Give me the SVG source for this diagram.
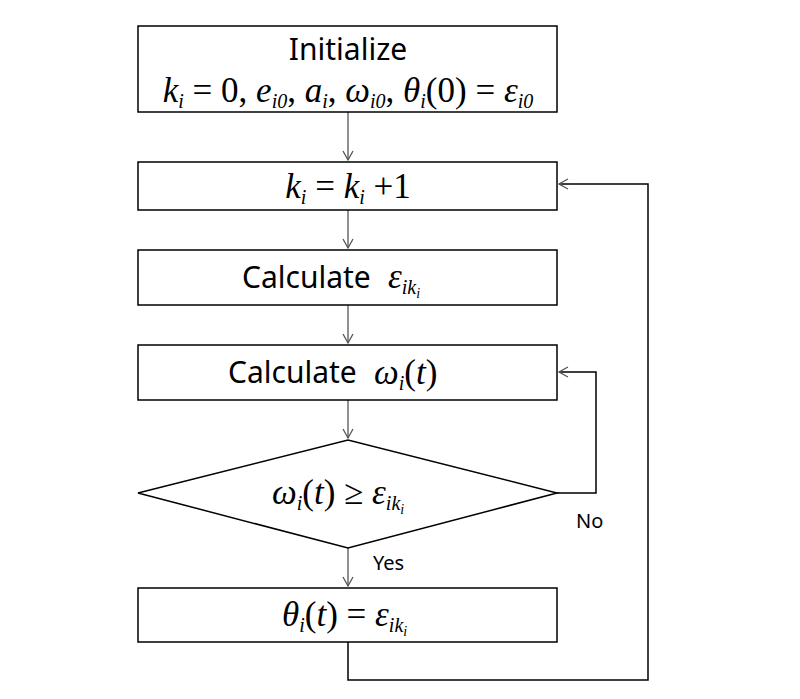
<svg xmlns="http://www.w3.org/2000/svg" width="800" height="699" viewBox="0 0 800 699">
<style>
.b{fill:#fff;stroke:#000;stroke-width:1.5}
.t{font-family:"Malgun Gothic","Noto Sans","Open Sans",sans-serif;font-size:30px;fill:#000}
.m{font-family:"Liberation Serif",serif;font-size:35px;fill:#000}
.i{font-style:italic}
.s{font-size:20px;font-style:italic}
.l{font-family:"Noto Sans","Open Sans",sans-serif;font-size:20px;fill:#000}
.c{fill:none;stroke:#555;stroke-width:1.3}
.c2{fill:none;stroke:#000;stroke-width:1.5}
</style>
<defs>
<marker id="a" markerWidth="12" markerHeight="12" refX="10" refY="6" orient="auto" markerUnits="userSpaceOnUse"><path d="M1,1 L10,6 L1,11" fill="none" stroke="#555" stroke-width="1.3"/></marker>
</defs>
<rect width="800" height="699" fill="#fff"/>
<g id="connectors">
<path class="c" d="M348,112 V160" marker-end="url(#a)"/>
<path class="c" d="M348,210 V248" marker-end="url(#a)"/>
<path class="c" d="M348,305 V343" marker-end="url(#a)"/>
<path class="c" d="M348,400 V438" marker-end="url(#a)"/>
<path class="c" d="M348,548 V586" marker-end="url(#a)"/>
<path class="c2" d="M557,493 H596 V372 H559" marker-end="url(#a)"/>
<path class="c2" d="M348,642 V680 H648 V184 H559" marker-end="url(#a)"/>
<text class="l" x="576" y="528">No</text>
<text class="l" x="373" y="570">Yes</text>
</g>
<g id="init">
<rect class="b" x="138" y="26" width="419" height="86"/>
<text class="t" x="348" y="60" text-anchor="middle">Initialize</text>
<text class="m" x="348" y="102" text-anchor="middle"><tspan class="i">k</tspan><tspan class="s" dy="6">i</tspan><tspan dy="-6"> = 0, </tspan><tspan class="i">e</tspan><tspan class="s" dy="6">i0</tspan><tspan dy="-6">, </tspan><tspan class="i">a</tspan><tspan class="s" dy="6">i</tspan><tspan dy="-6">, </tspan><tspan class="i">ω</tspan><tspan class="s" dy="6">i0</tspan><tspan dy="-6">, </tspan><tspan class="i">θ</tspan><tspan class="s" dy="6">i</tspan><tspan dy="-6">(0) = </tspan><tspan class="i">ε</tspan><tspan class="s" dy="6">i0</tspan></text>
</g>
<g id="inc">
<rect class="b" x="138" y="162" width="419" height="48"/>
<text class="m" x="348" y="198" text-anchor="middle"><tspan class="i">k</tspan><tspan class="s" dy="6">i</tspan><tspan dy="-6"> = </tspan><tspan class="i">k</tspan><tspan class="s" dy="6">i</tspan><tspan dy="-6"> +1</tspan></text>
</g>
<g id="calc1">
<rect class="b" x="138" y="250" width="419" height="55"/>
<text class="t" x="242" y="288">Calculate</text>
<text class="m" x="388" y="288"><tspan class="i">ε</tspan><tspan class="s" dy="6">ik</tspan><tspan dy="4" style="font-size:14px;font-style:italic">i</tspan></text>
</g>
<g id="calc2">
<rect class="b" x="138" y="345" width="419" height="55"/>
<text class="t" x="228" y="383">Calculate</text>
<text class="m" x="374" y="384"><tspan class="i">ω</tspan><tspan class="s" dy="6">i</tspan><tspan dy="-6">(</tspan><tspan class="i">t</tspan><tspan>)</tspan></text>
</g>
<g id="decision">
<polygon class="b" points="138,493 348,440 557,493 348,548"/>
<text class="m" x="272" y="504"><tspan class="i">ω</tspan><tspan class="s" dy="6">i</tspan><tspan dy="-6">(</tspan><tspan class="i">t</tspan><tspan>) ≥ </tspan><tspan class="i">ε</tspan><tspan class="s" dy="6">ik</tspan><tspan dy="4" style="font-size:14px;font-style:italic">i</tspan></text>
</g>
<g id="assign">
<rect class="b" x="138" y="588" width="419" height="54"/>
<text class="m" x="282" y="626"><tspan class="i">θ</tspan><tspan class="s" dy="6">i</tspan><tspan dy="-6">(</tspan><tspan class="i">t</tspan><tspan>) = </tspan><tspan class="i">ε</tspan><tspan class="s" dy="6">ik</tspan><tspan dy="4" style="font-size:14px;font-style:italic">i</tspan></text>
</g>
</svg>
